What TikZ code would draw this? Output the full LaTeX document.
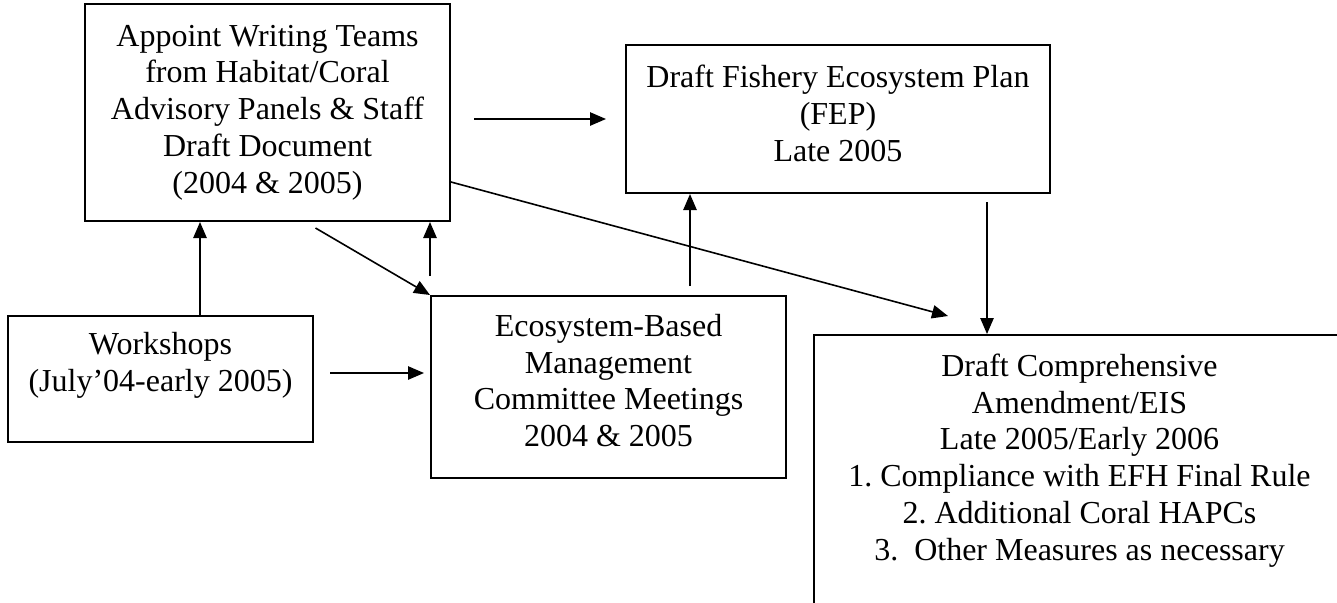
\documentclass[tikz,border=0pt]{standalone}
\usepackage{fontspec}
\setmainfont{Liberation Serif}
\usepackage{tikz}
\usetikzlibrary{calc, arrows.meta}
\frenchspacing
\newcommand{\px}{0.375pt}
\tikzset{
    box/.style={draw, line width=0.75pt, align=center, inner sep=0pt,
        font=\fontsize{12pt}{13.8pt}\selectfont},
}

\begin{document}
\begin{tikzpicture}[>={Stealth[length=6pt, width=5pt, inset=0pt]}, x=0.375pt, y=-0.375pt, line width=0.6pt]
        \useasboundingbox (0,0) rectangle (1337,602);
        \clip (0,0) rectangle (1337,602);
        \node[box, minimum width=365*\px, minimum height=217*\px] (appoint) at (267.5,112.5)
            {Appoint Writing Teams\\from Habitat/Coral\\Advisory Panels \& Staff\\Draft Document\\(2004 \& 2005)};
        \node[box, minimum width=424*\px, minimum height=148*\px] (fep) at (838,119)
            {Draft Fishery Ecosystem Plan\\(FEP)\\Late 2005\rule[-4.5pt]{0pt}{0pt}};
        \node[box, minimum width=305*\px, minimum height=126*\px] (work) at (160.5,379)
            {Workshops\\(July’04-early 2005)\rule[-13pt]{0pt}{0pt}};
        \node[box, minimum width=355*\px, minimum height=182*\px] (ebm) at (608.5,387)
            {Ecosystem-Based\\Management\\Committee Meetings\\2004 \& 2005\rule[-5pt]{0pt}{0pt}};
        \node[box, anchor=north, minimum width=531*\px, inner ysep=7pt] (comp) at (1079.5,334)
            {Draft Comprehensive\\Amendment/EIS\\Late 2005/Early 2006\\1. Compliance with EFH Final Rule\\2. Additional Coral HAPCs\\3.\ \ Other Measures as necessary\rule[-3cm]{0pt}{0pt}};
        \coordinate (a1) at ($(appoint.east |- fep.west)+(23,0)$);
        \coordinate (w1) at ($(work.north)+(39.5,0)$);
        \coordinate (w2) at ($(work.east)+(16,-6)$);
        \coordinate (e1) at ($(ebm.north west)+(0,-19)$);
        \coordinate (e2) at ($(ebm.north)+(81.5,-9)$);
        \coordinate (f1) at ($(fep.south)+(149,8)$);
        \draw[->, shorten >=19*\px] (a1) -- (a1 -| fep.west);
        \draw[->] (w1) -- (w1 |- appoint.south);
        \draw[->] (e1) -- (e1 |- appoint.south);
        \draw[->] ($(appoint.south)+(48,6)$) -- (ebm.north west);
        \draw[->] (e2) -- (e2 |- fep.south);
        \draw[->] ($(appoint.east)+(0,69.5)$) -- ($(comp.north west)+(135,-18)$);
        \draw[->] (f1) -- (f1 |- comp.north);
        \draw[->, shorten >=6*\px] (w2) -- (w2 -| ebm.west);
\end{tikzpicture}
\end{document}
